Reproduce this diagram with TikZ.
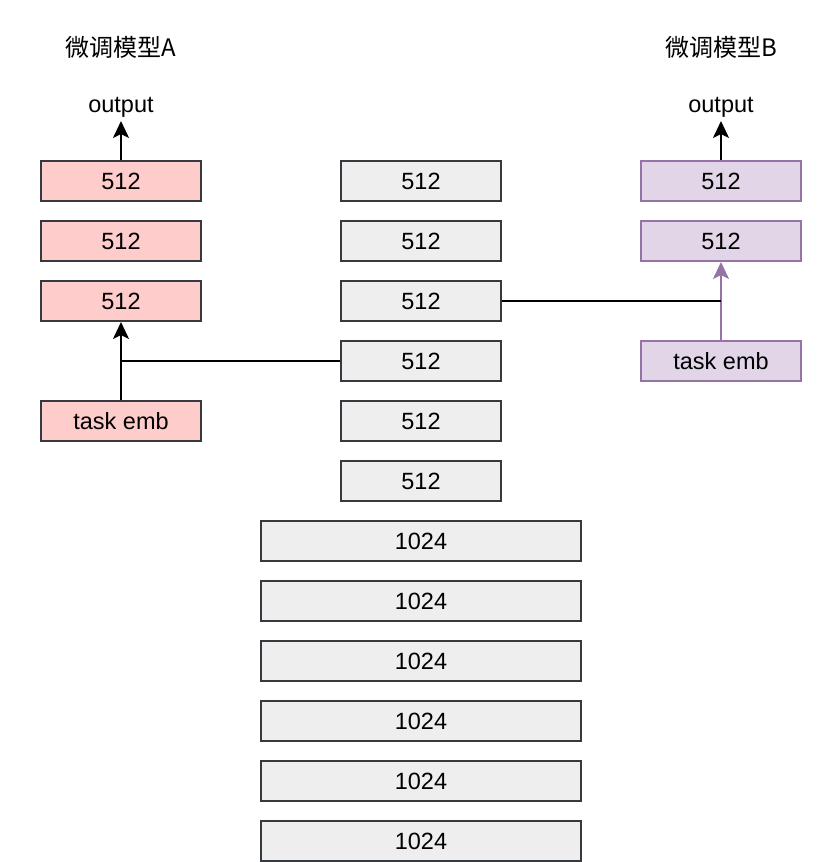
\documentclass[tikz,border=0pt]{standalone}
\usepackage{fontspec}
\setmainfont{Liberation Sans}
\newfontfamily\cjk{Noto Sans CJK SC}
\usetikzlibrary{arrows.meta}
\definecolor{grayfill}{HTML}{EEEEEE}
\definecolor{darkstroke}{HTML}{36393D}
\definecolor{redfill}{HTML}{FFCCCC}
\definecolor{purplefill}{HTML}{E1D5E7}
\definecolor{purplestroke}{HTML}{9673A6}
\tikzset{
  box/.style={draw=darkstroke, line width=2pt, minimum height=40pt, inner sep=0pt, font=\fontsize{23.5}{27}\selectfont},
  narrow/.style={box, minimum width=160pt},
  wide/.style={box, minimum width=320pt},
  graybox/.style={fill=grayfill},
  redbox/.style={narrow, fill=redfill},
  purplebox/.style={narrow, fill=purplefill, draw=purplestroke},
  conn/.style={line width=2pt, draw=black},
  arr/.style={conn, -{Stealth[length=17pt, width=16pt, inset=4pt]}},
  parr/.style={arr, draw=purplestroke, fill=purplestroke},
  lbl/.style={inner sep=0pt, font=\fontsize{23.5}{27}\selectfont},
  ttl/.style={inner sep=0pt, font=\cjk\fontsize{24}{28}\selectfont}
}
\begin{document}
\begin{tikzpicture}[x=1pt, y=-1pt]
\useasboundingbox (0,0) rectangle (840,862);
% titles
\node[ttl] (tA) at (121,47) {微调模型A};
\node[ttl] (tB) at (721,47) {微调模型B};
% outputs
\node[lbl] (oA) at (121,107) {output};
\node[lbl] (oB) at (721,107) {output};
% left column
\node[redbox] (A1) at (121,181) {512};
\node[redbox] (A2) at (121,241) {512};
\node[redbox] (A3) at (121,301) {512};
\node[redbox] (eA) at (121,421) {task emb};
% middle column
\node[narrow, graybox] (M1) at (421,181) {512};
\node[narrow, graybox] (M2) at (421,241) {512};
\node[narrow, graybox] (M3) at (421,301) {512};
\node[narrow, graybox] (M4) at (421,361) {512};
\node[narrow, graybox] (M5) at (421,421) {512};
\node[narrow, graybox] (M6) at (421,481) {512};
\node[wide, graybox] (W1) at (421,541) {1024};
\node[wide, graybox] (W2) at (421,601) {1024};
\node[wide, graybox] (W3) at (421,661) {1024};
\node[wide, graybox] (W4) at (421,721) {1024};
\node[wide, graybox] (W5) at (421,781) {1024};
\node[wide, graybox] (W6) at (421,841) {1024};
% right column
\node[purplebox] (B1) at (721,181) {512};
\node[purplebox] (B2) at (721,241) {512};
\node[purplebox] (eB) at (721,361) {task emb};
% junctions
\coordinate (jA) at (121,361);
\coordinate (jB) at (721,301);
\coordinate (oAb) at (121,121);
\coordinate (oBb) at (721,121);
% connectors
\draw[arr] (A1.north) -- (oAb);
\draw[arr] (B1.north) -- (oBb);
\draw[arr] (eA.north) -- (A3.south);
\draw[conn] (M4.west) -- (jA);
\draw[parr] (eB.north) -- (B2.south);
\draw[conn] (M3.east) -- (jB);
\end{tikzpicture}
\end{document}
